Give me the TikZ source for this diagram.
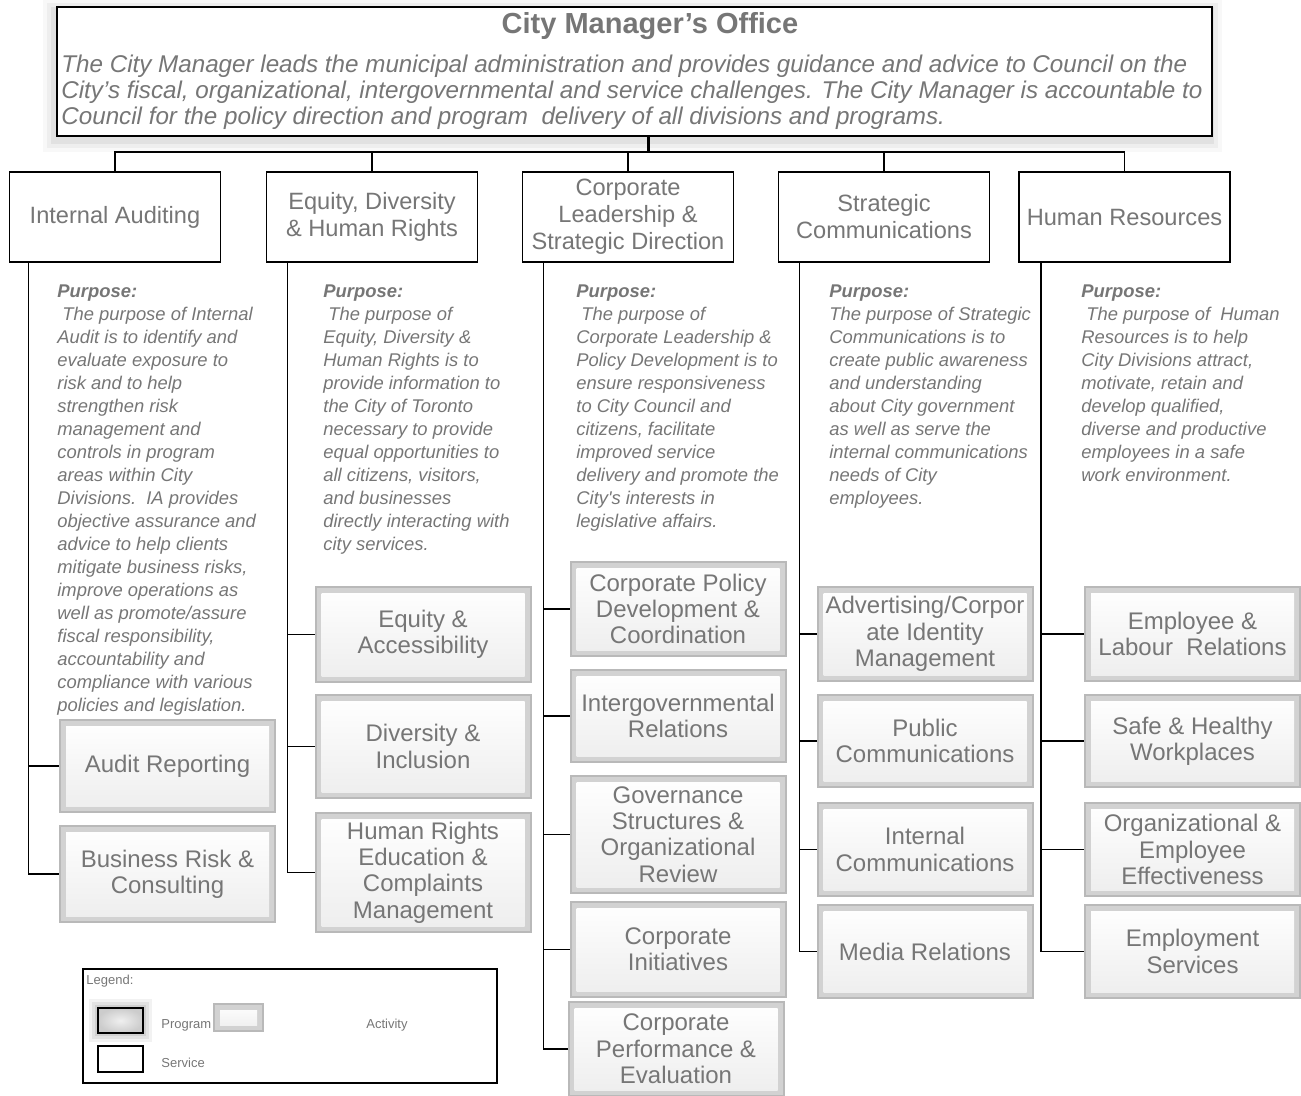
\documentclass[tikz,border=0pt]{standalone}
\usepackage{fontspec}
\setmainfont{Liberation Sans}
\usepackage{tikz}
\usetikzlibrary{calc,positioning}
\definecolor{txtgray}{RGB}{118,118,118}
\newcommand{\titlefont}{\fontsize{14.5}{16}\selectfont\bfseries}
\newcommand{\bodyfont}{\fontsize{12.1}{13}\selectfont\itshape}
\newcommand{\svcfont}{\fontsize{11.8}{13.5}\selectfont}
\newcommand{\actfont}{\fontsize{12}{13.2}\selectfont}
\newcommand{\purpfont}{\fontsize{9.2}{11.5}\selectfont\itshape}
\newcommand{\legfont}{\fontsize{6.5}{8}\selectfont}

\begin{document}
\begin{tikzpicture}[
        x=0.5pt, y=-0.5pt,
        glow/.style={preaction={draw=gray, draw opacity=0.10, line width=9pt},
                     preaction={draw=gray, draw opacity=0.14, line width=6pt},
                     preaction={draw=gray, draw opacity=0.18, line width=3pt}},
        shadowed/.style={preaction={draw=gray, draw opacity=0.06, line width=12pt, transform canvas={shift={(-1pt,-2pt)}}},
                         preaction={draw=gray, draw opacity=0.08, line width=8pt, transform canvas={shift={(-1pt,-2pt)}}},
                         preaction={draw=gray, draw opacity=0.12, line width=4pt, transform canvas={shift={(-1pt,-2pt)}}}},
        office/.style={rectangle, draw, line width=0.9pt, fill=white, shadowed,
                       minimum width=577.5pt, minimum height=64.5pt},
        svc/.style={rectangle, draw, line width=0.8pt, fill=white, text=txtgray,
                    align=center, font=\svcfont, minimum width=105.5pt, minimum height=45pt, inner sep=2pt},
        act/.style={rectangle, draw=gray!55, line width=1pt, fill=gray!35, text=txtgray,
                    align=center, font=\actfont, minimum width=107.5pt, inner sep=2pt,
                    path picture={\shade[top color=white, bottom color=gray!14]
                      ([shift={(3pt,-3pt)}]path picture bounding box.north west) rectangle
                      ([shift={(-3pt,3pt)}]path picture bounding box.south east);}},
        purp/.style={anchor=north west, align=left, inner sep=0pt, text=txtgray, font=\purpfont},
        leg/.style={anchor=west, inner sep=0pt, text=txtgray, font=\legfont},
        link/.style={draw, line width=0.75pt},
        trunk/.style={draw, line width=1.5pt}
      ]
      \useasboundingbox (0,0) rectangle (1301,1096);

      \node (CMO) at (634.5,71.5) [office] {};
      \node (CMOT) at (650,26) [text=txtgray, font=\titlefont] {City Manager's Office};
      \node (CMOB) at (61,92) [anchor=west, align=left, inner sep=0pt, text=txtgray, font=\bodyfont]
        {The City Manager leads the municipal administration and provides guidance and advice to Council on the\\
         City's fiscal, organizational, intergovernmental and service challenges. The City Manager is accountable to\\
         Council for the policy direction and program\ \ delivery of all divisions and programs.};

      \node (IA) at (115,217) [svc] {Internal Auditing};
      \node (EDHR) at (372,217) [svc] {Equity, Diversity\\\& Human Rights};
      \node (CLSD) at (628,217) [svc] {Corporate\\Leadership \&\\Strategic Direction};
      \node (SC) at (884,217) [svc] {Strategic\\Communications};
      \node (HR) at (1124.5,217) [svc] {Human Resources};

      \coordinate (SPLIT) at (648,152);
      \draw[trunk] (SPLIT |- CMO.south) -- (SPLIT);
      \draw[link] (IA.north) |- (SPLIT) -| (HR.north);
      \foreach \s in {EDHR,CLSD,SC}
        \draw[link] (\s.north) -- (\s.north |- SPLIT);

      \node (IAP) at (57,284) [purp] {\textbf{Purpose:}\\
        \hspace{2.5pt}The purpose of Internal\\ Audit is to identify and\\ evaluate exposure to\\
        risk and to help\\ strengthen risk\\ management and\\ controls in program\\
        areas within City\\ Divisions.\ \ IA provides\\ objective assurance and\\
        advice to help clients\\ mitigate business risks,\\ improve operations as\\
        well as promote/assure\\ fiscal responsibility,\\ accountability and\\
        compliance with various\\ policies and legislation.};
      \node (EDHRP) at (323,284) [purp] {\textbf{Purpose:}\\
        \hspace{2.5pt}The purpose of\\ Equity, Diversity \&\\ Human Rights is to\\
        provide information to\\ the City of Toronto\\ necessary to provide\\
        equal opportunities to\\ all citizens, visitors,\\ and businesses\\
        directly interacting with\\ city services.};
      \node (CLSDP) at (576,284) [purp] {\textbf{Purpose:}\\
        \hspace{2.5pt}The purpose of\\ Corporate Leadership \&\\ Policy Development is to\\
        ensure responsiveness\\ to City Council and\\ citizens, facilitate\\
        improved service\\ delivery and promote the\\ City\textquotesingle s interests in\\
        legislative affairs.};
      \node (SCP) at (829,284) [purp] {\textbf{Purpose:}\\
        The purpose of Strategic\\ Communications is to\\ create public awareness\\
        and understanding\\ about City government\\ as well as serve the\\
        internal communications\\ needs of City\\ employees.};
      \node (HRP) at (1081,284) [purp] {\textbf{Purpose:}\\
        \hspace{2.5pt}The purpose of\ \ Human\\ Resources is to help\\ City Divisions attract,\\
        motivate, retain and\\ develop qualified,\\ diverse and productive\\
        employees in a safe\\ work environment.};

      \node (AR) at (167.5,766) [act, minimum height=46pt] {Audit Reporting};
      \node (BRC) at (167.5,874) [act, minimum height=48pt] {Business Risk \&\\Consulting};

      \node (EA) at (423,634.5) [act, minimum height=47.5pt] {Equity \&\\Accessibility};
      \node (DI) at (423,746.5) [act, minimum height=51.5pt] {Diversity \&\\Inclusion};
      \node (HRE) at (423,872.5) [act, minimum height=59.5pt] {Human Rights\\Education \&\\Complaints\\Management};

      \node (CPD) at (678,609) [act, minimum height=47pt] {Corporate Policy\\Development \&\\Coordination};
      \node (IGR) at (678,716) [act, minimum height=46pt] {Intergovernmental\\Relations};
      \node (GSR) at (678,834.5) [act, minimum height=58.5pt] {Governance\\Structures \&\\Organizational\\Review};
      \node (CI) at (678,949.5) [act, minimum height=47.5pt] {Corporate\\Initiatives};
      \node (CPE) at (676,1049) [act, minimum height=47pt] {Corporate\\Performance \&\\Evaluation};

      \node (ACI) at (925,634) [act, minimum height=47pt] {Advertising/Corpor\\ate Identity\\Management};
      \node (PC) at (925,741) [act, minimum height=46pt] {Public\\Communications};
      \node (IC) at (925,849.5) [act, minimum height=46.5pt] {Internal\\Communications};
      \node (MR) at (925,951.5) [act, minimum height=46.5pt] {Media Relations};

      \node (ELR) at (1192.5,634) [act, minimum height=47pt] {Employee \&\\Labour\ \ Relations};
      \node (SHW) at (1192.5,741) [act, minimum height=46pt] {Safe \& Healthy\\Workplaces};
      \node (OEE) at (1192.5,849.5) [act, minimum height=46.5pt] {Organizational \&\\Employee\\Effectiveness};
      \node (ES) at (1192.5,951.5) [act, minimum height=46.5pt] {Employment\\Services};

      \foreach \a in {AR,BRC}
        \draw[link] ([xshift=10pt]IA.south west) |- (\a.west);
      \foreach \a in {EA,DI,HRE}
        \draw[link] ([xshift=11pt]EDHR.south west) |- (\a.west);
      \foreach \a in {CPD,IGR,GSR,CI,CPE}
        \draw[link] ([xshift=11pt]CLSD.south west) |- (\a.west);
      \foreach \a in {ACI,PC,IC,MR}
        \draw[link] ([xshift=11pt]SC.south west) |- (\a.west);
      \foreach \a in {ELR,SHW,OEE,ES}
        \draw[link] ([xshift=11.5pt]HR.south west) |- (\a.west);

      \node (LEG) at (290,1026) [rectangle, draw, line width=0.8pt, minimum width=207pt, minimum height=57pt] {};
      \node (LEGT) at (86,981) [leg] {Legend:};
      \node (PRG) at (120.5,1020.5) [rectangle, draw, line width=0.8pt, glow, inner color=gray!12, outer color=gray!40,
                                      minimum width=22.5pt, minimum height=12.5pt] {};
      \node (PRGT) at (161,1025) [leg] {Program};
      \node (ACTL) at (238.5,1017.5) [act, line width=0.8pt, minimum width=24.5pt, minimum height=13.5pt] {};
      \node (ACTT) at (366,1025) [leg] {Activity};
      \node (SRV) at (120.5,1059) [rectangle, draw, line width=0.8pt, minimum width=22.5pt, minimum height=13pt] {};
      \node (SRVT) at (161,1063) [leg] {Service};
    \end{tikzpicture}
\end{document}
